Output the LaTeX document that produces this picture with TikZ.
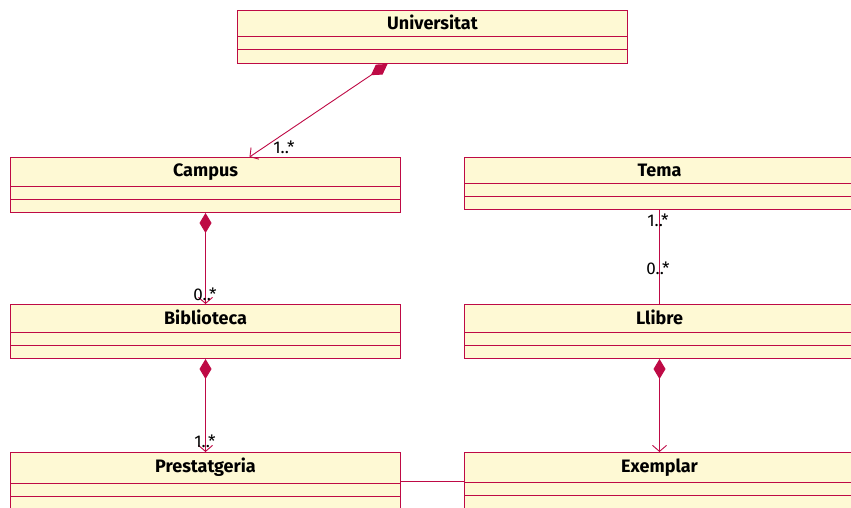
\documentclass[tikz,border=0pt]{standalone}
\usepackage{fontspec}
\setmainfont{Fira Sans}
\usetikzlibrary{arrows.meta,positioning}
\definecolor{umlred}{HTML}{BE0A45}
\definecolor{umlfill}{HTML}{FEF9D4}

\begin{document}
\begin{tikzpicture}[x=1pt, y=-1pt,
		cls/.style={draw=umlred, fill=umlfill, line width=1pt, minimum width=390pt, anchor=north west, inner sep=0pt},
		cname/.style={font=\bfseries\fontsize{18}{20}\selectfont, inner sep=0pt, anchor=base},
		part/.style={draw=umlred, line width=1pt},
		mult/.style={font=\fontsize{17}{19}\selectfont, inner sep=0pt},
		comp/.style={draw=umlred, line width=0.9pt, {Diamond[length=20pt,width=12pt]}-{Straight Barb[length=6pt,width=14pt]}},
		assoc/.style={draw=umlred, line width=0.9pt}]
	\useasboundingbox (0,0) rectangle (851,508);
	% classes
	\node[cls, minimum height=53pt] (univ) at (237,10) {};
	\node[cname] (univ-t) at ([yshift=-20pt]univ.north) {Universitat};
	\draw[part] ([yshift=-27pt]univ.north west) -- ([yshift=-27pt]univ.north east);
	\draw[part] ([yshift=-40pt]univ.north west) -- ([yshift=-40pt]univ.north east);
	\node[cls, minimum height=55pt] (campus) at (10,157) {};
	\node[cname] (campus-t) at ([yshift=-19pt]campus.north) {Campus};
	\draw[part] ([yshift=-29pt]campus.north west) -- ([yshift=-29pt]campus.north east);
	\draw[part] ([yshift=-42pt]campus.north west) -- ([yshift=-42pt]campus.north east);
	\node[cls, minimum height=52pt] (tema) at (464,157) {};
	\node[cname] (tema-t) at ([yshift=-19.5pt]tema.north) {Tema};
	\draw[part] ([yshift=-26pt]tema.north west) -- ([yshift=-26pt]tema.north east);
	\draw[part] ([yshift=-39pt]tema.north west) -- ([yshift=-39pt]tema.north east);
	\node[cls, minimum height=54pt] (biblio) at (10,304) {};
	\node[cname] (biblio-t) at ([yshift=-20pt]biblio.north) {Biblioteca};
	\draw[part] ([yshift=-28pt]biblio.north west) -- ([yshift=-28pt]biblio.north east);
	\draw[part] ([yshift=-41pt]biblio.north west) -- ([yshift=-41pt]biblio.north east);
	\node[cls, minimum height=54pt] (llibre) at (464,304) {};
	\node[cname] (llibre-t) at ([yshift=-20pt]llibre.north) {Llibre};
	\draw[part] ([yshift=-28pt]llibre.north west) -- ([yshift=-28pt]llibre.north east);
	\draw[part] ([yshift=-41pt]llibre.north west) -- ([yshift=-41pt]llibre.north east);
	\node[cls, minimum height=62pt] (prest) at (10,452) {};
	\node[cname] (prest-t) at ([yshift=-20pt]prest.north) {Prestatgeria};
	\draw[part] ([yshift=-31pt]prest.north west) -- ([yshift=-31pt]prest.north east);
	\draw[part] ([yshift=-44pt]prest.north west) -- ([yshift=-44pt]prest.north east);
	\node[cls, minimum height=62pt] (exemplar) at (464,452) {};
	\node[cname] (exemplar-t) at ([yshift=-20pt]exemplar.north) {Exemplar};
	\draw[part] ([yshift=-30pt]exemplar.north west) -- ([yshift=-30pt]exemplar.north east);
	\draw[part] ([yshift=-43pt]exemplar.north west) -- ([yshift=-43pt]exemplar.north east);
	% relations
	\draw[comp] ([xshift=-45pt]univ.south) -- ([xshift=44pt]campus.north);
	\draw[comp] (campus.south) -- (biblio.north);
	\draw[comp] (biblio.south) -- (prest.north);
	\draw[comp] (llibre.south) -- (exemplar.north);
	\draw[assoc] (tema.south) -- (llibre.north);
	\draw[assoc] ([yshift=-29pt]prest.north east) -- ([yshift=-29pt]exemplar.north west);
	% multiplicities
	\node[mult] (m-campus) at (284,147) {1..*};
	\node[mult] (m-biblio) at (205,294) {0..*};
	\node[mult] (m-prest) at (205,441) {1..*};
	\node[mult] (m-tema) at (658,220) {1..*};
	\node[mult] (m-llibre) at (658,268) {0..*};
\end{tikzpicture}
\end{document}
